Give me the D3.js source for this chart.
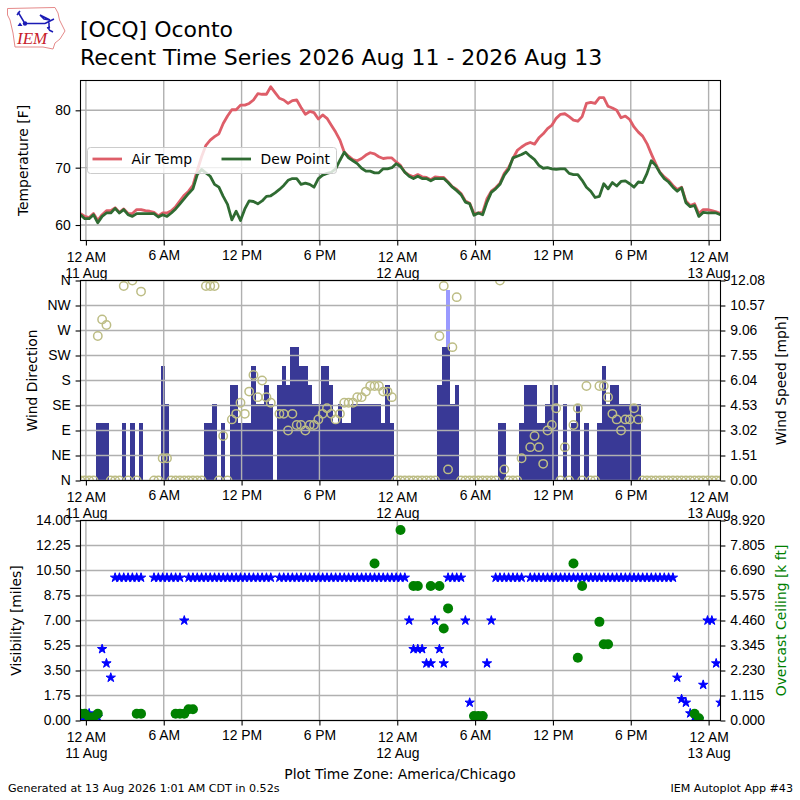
<!DOCTYPE html>
<html>
<head>
<meta charset="utf-8">
<script src="https://cdn.jsdelivr.net/npm/d3@7"></script>
<style>
  html, body { margin: 0; padding: 0; background: #fff; }
  svg { display: block; font-family: "DejaVu Sans", sans-serif; }
  .tick text { font-size: 13.9px; fill: #000; }
  .domain { display: none; }
  .tick line { stroke: #000; stroke-width: 1.1; }
  .grid line { stroke: #b0b0b0; stroke-width: 1.4; }
  .frame { fill: none; stroke: #000; stroke-width: 1.1; }
  .label { font-size: 13.9px; text-anchor: middle; }
</style>
</head>
<body>
<svg width="800" height="800"></svg>
<script>
// minutes since midnight 11 Aug, one per observation
const obsMinutes = [
  -25,-5,15,35,55,75,95,115,135,155,175,195,215,235,255,275,295,315,335,355,
  375,395,415,435,455,475,495,515,535,555,575,595,615,635,655,675,695,715,735,755,
  775,795,815,835,855,875,895,915,935,955,975,995,1015,1035,1055,1075,1095,1115,1135,1155,
  1175,1195,1215,1235,1255,1275,1295,1315,1335,1355,1375,1395,1415,1435,1455,1475,1495,1515,1535,1555,
  1575,1595,1615,1635,1655,1675,1695,1715,1735,1755,1775,1795,1815,1835,1855,1875,1895,1915,1935,1955,
  1975,1995,2015,2035,2055,2075,2095,2115,2135,2155,2175,2195,2215,2235,2255,2275,2295,2315,2335,2355,
  2375,2395,2415,2435,2455,2475,2495,2515,2535,2555,2575,2595,2615,2635,2655,2675,2695,2715,2735,2755,
  2775,2795,2815,2835,2855,2875,2895,2915,2935
];
const airTemp = [
  62.0,61.5,61.3,62.0,60.8,61.8,62.5,62.5,63.0,62.2,62.8,62.0,62.0,62.7,62.7,62.5,62.4,62.2,61.6,62.1,
  62.1,62.5,63.2,64.2,65.2,65.9,66.9,69.5,71.9,73.9,74.8,75.4,75.9,77.7,79.0,80.1,80.1,80.9,80.9,81.2,
  81.8,82.9,82.8,82.8,84.1,83.1,82.1,81.8,81.2,81.7,81.8,80.5,79.3,79.8,79.6,78.5,79.2,78.6,77.4,76.2,
  74.8,72.7,72.0,71.4,71.2,71.6,72.2,72.6,72.4,71.9,71.6,71.7,71.7,71.0,70.4,69.2,68.7,68.4,68.8,68.4,
  68.3,67.9,68.4,68.3,68.3,67.5,66.7,66.2,65.5,64.2,63.8,62.0,62.1,62.2,64.6,65.9,66.5,67.3,69.0,70.0,
  71.6,73.0,73.6,74.1,74.4,74.1,75.2,75.9,76.8,77.4,78.6,79.3,79.4,78.9,78.3,78.1,78.9,81.2,81.4,81.2,
  82.2,82.2,80.7,80.4,80.0,78.7,79.0,78.4,77.1,76.2,75.5,74.2,72.4,70.7,69.2,68.4,67.8,66.9,66.2,66.6,
  64.2,63.4,63.7,62.0,62.7,62.7,62.5,62.3,62.0
];
const dewPoint = [
  61.8,61.1,61.1,61.8,60.4,61.5,62.1,62.1,62.9,62.1,62.7,61.8,61.5,62.0,62.0,62.0,62.0,62.0,61.4,61.8,
  61.5,62.1,62.8,63.7,64.6,65.5,66.3,68.8,69.7,69.1,68.5,67.1,66.6,65.0,63.6,60.9,62.4,60.8,62.8,64.2,
  64.1,63.7,64.2,65.0,65.1,65.6,66.2,66.9,67.8,68.1,68.1,67.1,67.3,67.1,66.6,68.1,68.7,69.0,69.2,69.8,
  71.3,72.7,71.7,71.2,70.7,69.9,69.4,69.4,69.1,69.1,69.8,69.8,70.0,70.7,70.2,69.2,68.5,68.1,68.5,68.1,
  68.1,67.7,68.1,68.1,68.1,67.4,66.6,66.0,65.3,64.0,63.7,61.7,62.1,61.8,64.0,65.7,66.3,67.1,68.7,69.7,
  71.7,72.0,72.3,72.7,72.0,71.4,70.4,69.9,70.0,69.8,69.7,69.8,69.8,69.0,68.8,68.8,67.8,66.6,65.9,64.8,
  65.0,67.2,66.3,67.4,66.8,67.6,67.7,67.2,66.6,67.5,67.4,69.0,71.2,70.4,69.1,68.1,67.5,66.6,65.9,66.5,
  63.9,63.2,63.4,61.5,62.2,62.1,62.1,62.1,61.8
];
const windSpeed = [
  0,0,0,0,3.45,3.45,3.45,0,0,0,3.45,0,3.45,0,3.45,0,0,0,0,6.9,
  4.6,0,0,0,0,0,0,0,0,3.45,3.45,4.6,0,3.45,0,5.75,5.75,3.45,3.45,3.45,
  6.9,4.6,4.6,5.75,4.6,0,5.75,6.9,5.75,8.05,8.05,6.9,6.9,5.75,4.6,4.6,6.9,6.9,5.75,3.45,
  4.6,3.45,3.45,4.6,4.6,4.6,4.6,4.6,4.6,4.6,3.45,5.75,3.45,0,0,0,0,0,0,0,
  0,0,0,5.75,8.05,8.05,4.6,5.75,0,0,0,0,0,0,0,0,0,3.45,3.45,0,
  0,0,3.45,5.75,5.75,5.75,3.45,3.45,4.6,5.75,5.75,0,4.6,0,3.45,4.6,0,3.45,0,0,
  3.45,6.9,4.6,5.75,5.75,4.6,4.6,4.6,4.6,4.6,0,0,0,0,0,0,0,0,0,0,
  0,0,0,0,0,0,0,0,0
];
const gustMinutes = [1675];
const gustSpeed = [11.5];
const windDir = [
  0,0,0,0,260,290,280,0,0,0,350,0,360,0,340,null,null,0,0,40,
  40,0,0,0,0,0,0,0,0,350,350,350,0,80,0,110,120,140,120,160,
  190,150,180,150,140,null,120,120,90,120,100,100,90,100,100,110,120,130,120,110,
  120,140,140,140,150,150,160,170,170,170,160,160,150,0,0,0,0,0,0,0,
  0,0,0,260,350,20,240,330,0,0,0,0,0,0,0,0,0,360,20,0,
  0,0,40,null,60,80,60,30,90,100,130,0,60,0,100,130,0,170,0,0,
  170,170,150,120,110,90,110,110,130,110,0,0,0,0,0,0,0,0,0,0,
  0,0,0,0,0,0,0,0,0
];
const visibility = [
  0,0.25,0.5,0.25,0.25,5,4,3,10,10,10,10,10,10,10,null,null,10,10,10,
  10,10,10,10,7,10,10,10,10,10,10,10,10,10,10,10,10,10,10,10,
  10,10,10,10,10,null,10,10,10,10,10,10,10,10,10,10,10,10,10,10,
  10,10,10,10,10,10,10,10,10,10,10,10,10,10,10,10,7,5,5,5,
  4,4,7,5,4,10,10,10,10,7,1.25,0.25,0.25,0.25,4,7,10,10,10,10,
  10,10,10,null,10,10,10,10,10,10,10,10,10,10,10,10,10,10,10,10,
  10,10,10,10,10,10,10,10,10,10,10,10,10,10,10,10,10,10,3,1.5,
  1.25,0.5,0.25,0.1,2.5,7,7,4,1.25
];
const ceilingMinutes = [-25,-5,15,35,55,235,255,415,435,455,475,495,1335,1455,1515,1535,1595,1635,1655,1675,1795,1815,1835,2255,2275,2295,2375,2395,2415,2815,2835];
const ceilingKft = [0.3,0.3,0.15,0.15,0.3,0.3,0.3,0.3,0.3,0.3,0.5,0.5,7.0,8.5,6.0,6.0,6.0,6.0,4.1,5.0,0.2,0.2,0.2,7.0,2.8,6.0,4.4,3.4,3.4,0.3,0.1];

const timeTicks = [0,360,720,1080,1440,1800,2160,2520,2880];
const timeLabels = ["12 AM\n11 Aug","6 AM","12 PM","6 PM","12 AM\n12 Aug","6 AM","12 PM","6 PM","12 AM\n13 Aug"];
const tempTicks = [60,70,80];
const dirTicks = [0,45,90,135,180,225,270,315,360];
const dirLabels = ["N","NE","E","SE","S","SW","W","NW","N"];
const speedTicks = ["0.00","1.51","3.02","4.53","6.04","7.55","9.06","10.57","12.08"];
const visTicks = ["0.00","1.75","3.50","5.25","7.00","8.75","10.50","12.25","14.00"];
const ceilTicks = ["0.000","1.115","2.230","3.345","4.460","5.575","6.690","7.805","8.920"];

const AIR = "#de5e69", DEW = "#2f6b32", BAR = "#393996", GUST = "#9a9aff", DIRC = "#bdbd85";

const svg = d3.select("svg");
const left = 80.5, right = 720.5;

const x = d3.scaleLinear().domain([-25, 2935]).range([left, right]);
const barW = x(20) - x(0);

function panel(name, top, bottom) {
  const g = svg.append("g").attr("class", name);
  svg.append("clipPath").attr("id", "clip-" + name)
    .append("rect").attr("x", left).attr("y", top).attr("width", right - left).attr("height", bottom - top);
  return { g, top, bottom, clip: `url(#clip-${name})` };
}

function xAxis(p) {
  const ax = p.g.append("g")
    .attr("transform", `translate(0,${p.bottom})`)
    .call(d3.axisBottom(x).tickValues(timeTicks).tickSize(4.9).tickPadding(4.9)
      .tickFormat((d, i) => timeLabels[i]));
  ax.selectAll(".tick text").each(function (d, i) {
    const lines = timeLabels[i].split("\n");
    const t = d3.select(this).text(null).attr("dy", null)
      .attr("y", lines.length > 1 ? 11.4 : 9.8);
    lines.forEach((l, j) => t.append("tspan").attr("x", 0)
      .attr("dy", j ? "16.4px" : "0.71em").text(l));
  });
}

function grid(p, yScale, values) {
  const g = p.g.append("g").attr("class", "grid");
  g.selectAll(".v").data(timeTicks).join("line").attr("class", "v")
    .attr("x1", d => x(d)).attr("x2", d => x(d)).attr("y1", p.top).attr("y2", p.bottom);
  g.selectAll(".h").data(values).join("line").attr("class", "h")
    .attr("x1", left).attr("x2", right).attr("y1", d => yScale(d)).attr("y2", d => yScale(d));
}

function frame(p) {
  p.g.append("rect").attr("class", "frame")
    .attr("x", left).attr("y", p.top).attr("width", right - left).attr("height", p.bottom - p.top);
}

function yLabel(xPos, yPos, text, color) {
  svg.append("text").attr("class", "label")
    .attr("transform", `translate(${xPos},${yPos}) rotate(-90)`)
    .attr("fill", color || "#000").text(text);
}

// ---- temperature panel
const p1 = panel("temps", 80.5, 240.5);
const yTemp = d3.scaleLinear().domain([57.3, 85.2]).range([p1.bottom, p1.top]);
grid(p1, yTemp, tempTicks);
const line = d3.line().x((d, i) => x(obsMinutes[i])).y(d => yTemp(d));
[[airTemp, AIR], [dewPoint, DEW]].forEach(([vals, color]) => {
  p1.g.append("path").datum(vals).attr("d", line).attr("clip-path", p1.clip)
    .attr("fill", "none").attr("stroke", color).attr("stroke-width", 2.8).attr("stroke-linejoin", "round");
});
xAxis(p1);
p1.g.append("g").attr("transform", `translate(${left},0)`)
  .call(d3.axisLeft(yTemp).tickValues(tempTicks).tickSize(4.9).tickPadding(4.9));
frame(p1);
yLabel(28, 160.5, "Temperature [F]");

const legend = p1.g.append("g");
legend.append("rect").attr("x", 87.5).attr("y", 147.5).attr("width", 249).attr("height", 26).attr("rx", 3)
  .attr("fill", "#fff").attr("fill-opacity", 0.8).attr("stroke", "#ccc");
[["Air Temp", AIR, 92.5], ["Dew Point", DEW, 221.5]].forEach(([name, color, lx]) => {
  legend.append("line").attr("x1", lx).attr("x2", lx + 29.5).attr("y1", 159).attr("y2", 159)
    .attr("stroke", color).attr("stroke-width", 2.8);
  legend.append("text").attr("x", lx + 39).attr("y", 164).attr("font-size", 13.9).text(name);
});

// ---- wind panel
const p2 = panel("wind", 280.5, 480.5);
const yDir = d3.scaleLinear().domain([0, 360]).range([p2.bottom, p2.top]);
const ySpeed = d3.scaleLinear().domain([0, 12.08]).range([p2.bottom, p2.top]);
p2.g.selectAll(".gust").data(gustMinutes).join("rect").attr("class", "gust")
  .attr("x", d => x(d) - barW / 2).attr("width", barW)
  .attr("y", (d, i) => ySpeed(gustSpeed[i])).attr("height", (d, i) => ySpeed(0) - ySpeed(gustSpeed[i]))
  .attr("fill", GUST).attr("shape-rendering", "crispEdges");
p2.g.selectAll(".bar").data(windSpeed).join("rect").attr("class", "bar")
  .attr("x", (d, i) => x(obsMinutes[i]) - barW / 2).attr("width", barW)
  .attr("y", d => ySpeed(d)).attr("height", d => ySpeed(0) - ySpeed(d))
  .attr("fill", BAR).attr("clip-path", p2.clip).attr("shape-rendering", "crispEdges");
grid(p2, yDir, dirTicks);
p2.g.append("g").attr("clip-path", p2.clip).selectAll("circle")
  .data(obsMinutes.map((m, i) => [m, windDir[i]]).filter(d => d[1] !== null))
  .join("circle")
  .attr("cx", d => x(d[0]))
  .attr("cy", d => yDir(d[1])).attr("r", 4.2)
  .attr("fill", "none").attr("stroke", DIRC).attr("stroke-width", 1.5);
xAxis(p2);
p2.g.append("g").attr("transform", `translate(${left},0)`)
  .call(d3.axisLeft(yDir).tickValues(dirTicks).tickSize(4.9).tickPadding(4.9).tickFormat((d, i) => dirLabels[i]));
p2.g.append("g").attr("transform", `translate(${right},0)`)
  .call(d3.axisRight(yDir).tickValues(dirTicks).tickSize(4.9).tickPadding(4.9).tickFormat((d, i) => speedTicks[i]));
frame(p2);
yLabel(37, 380.5, "Wind Direction");
yLabel(786, 380.5, "Wind Speed [mph]");

// ---- visibility panel
const p3 = panel("vis", 520.5, 720.5);
const yVis = d3.scaleLinear().domain([0, 14]).range([p3.bottom, p3.top]);
const yCeil = d3.scaleLinear().domain([0, 8.92]).range([p3.bottom, p3.top]);
grid(p3, yVis, visTicks.map(Number));
const star = d3.symbol().type(d3.symbolStar).size(27);
p3.g.append("g").attr("clip-path", p3.clip).selectAll("path")
  .data(obsMinutes.map((m, i) => [m, visibility[i]]).filter(d => d[1] !== null))
  .join("path").attr("d", star)
  .attr("transform", d => `translate(${x(d[0])},${yVis(d[1])})`)
  .attr("fill", "#0000ff").attr("stroke", "#0000ff").attr("stroke-width", 1);
p3.g.append("g").attr("clip-path", p3.clip).selectAll("circle").data(ceilingMinutes).join("circle")
  .attr("cx", d => x(d)).attr("cy", (d, i) => yCeil(ceilingKft[i])).attr("r", 5)
  .attr("fill", "#008000");
xAxis(p3);
p3.g.append("g").attr("transform", `translate(${left},0)`)
  .call(d3.axisLeft(yVis).tickValues(visTicks.map(Number)).tickSize(4.9).tickPadding(4.9).tickFormat((d, i) => visTicks[i]));
p3.g.append("g").attr("transform", `translate(${right},0)`)
  .call(d3.axisRight(yCeil).tickValues(ceilTicks.map(Number)).tickSize(4.9).tickPadding(4.9).tickFormat((d, i) => ceilTicks[i]));
frame(p3);
yLabel(21, 620.5, "Visibility [miles]");
yLabel(786, 620.5, "Overcast Ceiling [k ft]", "#008000");

// ---- titles and footer
svg.append("text").attr("x", 80).attr("y", 37).attr("font-size", 22).text("[OCQ] Oconto");
svg.append("text").attr("x", 80).attr("y", 65).attr("font-size", 22).text("Recent Time Series 2026 Aug 11 - 2026 Aug 13");
svg.append("text").attr("class", "label").attr("x", 400).attr("y", 779).text("Plot Time Zone: America/Chicago");
svg.append("text").attr("x", 8).attr("y", 792).attr("font-size", 11.1).text("Generated at 13 Aug 2026 1:01 AM CDT in 0.52s");
svg.append("text").attr("x", 793).attr("y", 792).attr("font-size", 11.1).attr("text-anchor", "end").text("IEM Autoplot App #43");

// ---- logo
const logo = svg.append("g");
logo.append("path").attr("d", "M7.5 8.5L55 7.5L58 13L59.5 20L65 31L60 39L55 43L53 49L43 47L15 47L13 33L10 20L7.5 15Z")
  .attr("fill", "#fff").attr("stroke", "#e58a8a").attr("stroke-width", 1);
logo.append("text").attr("x", 17).attr("y", 44).attr("font-family", "Liberation Serif").attr("font-style", "italic")
  .attr("font-size", 17).attr("fill", "#c8202a").text("IEM");
logo.append("path").attr("d", "M25 23.5H45M24 22L18 12M17 15L20 11M45 23.5L54 19M40 15L50 20L44 19ZM49 20V30M47 28L50 27M49 30L53 32")
  .attr("fill", "none").attr("stroke", "#1b1bb5").attr("stroke-width", 1.5);
logo.append("circle").attr("cx", 25).attr("cy", 23.5).attr("r", 2.2).attr("fill", "#1b1bb5");
logo.append("path").attr("d", "M20 22.5L22.5 26H17.5Z").attr("fill", "#1b1bb5");
</script>
</body>
</html>
